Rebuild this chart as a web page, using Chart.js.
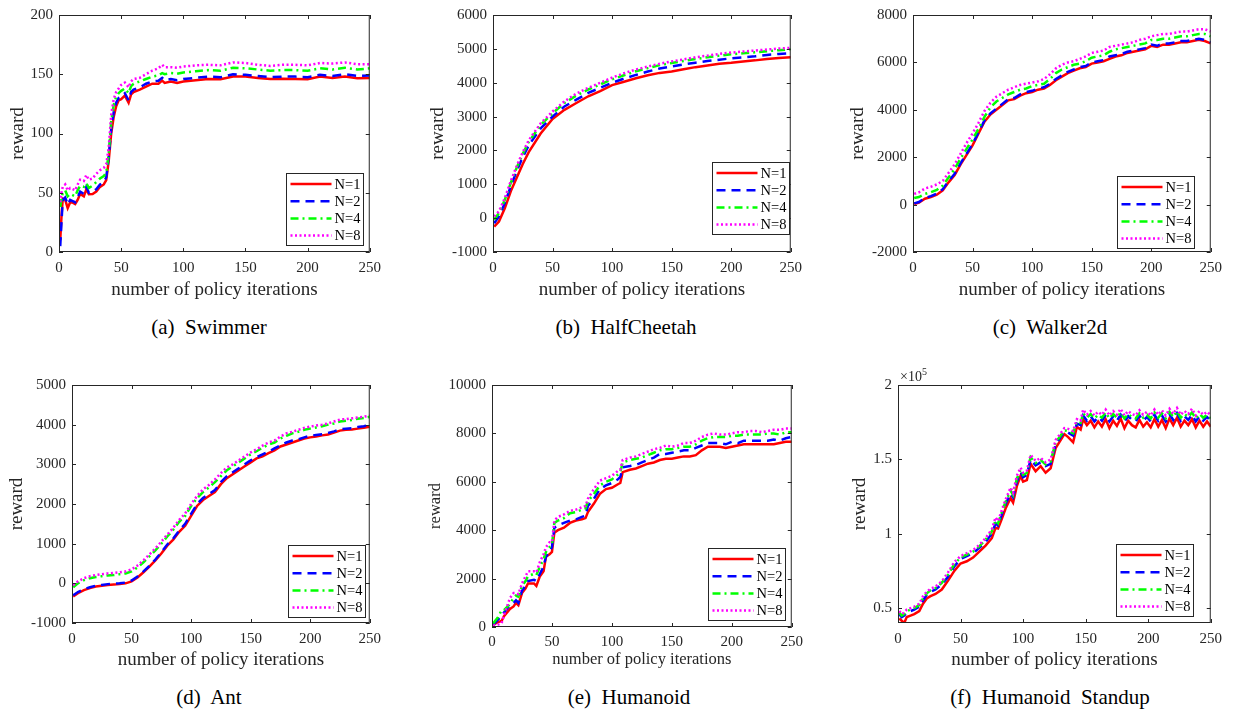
<!DOCTYPE html>
<html>
<head>
<meta charset="utf-8">
<script src="https://cdn.jsdelivr.net/npm/chart.js@4.4.1/dist/chart.umd.min.js"></script>
<style>
  body { margin: 0; width: 1235px; height: 711px; overflow: hidden; position: relative; background: #fff; font-family: 'Liberation Serif', 'Times New Roman', serif; }
  canvas { position: absolute; }
  .caption { position: absolute; font-size: 21px; color: #000; white-space: pre; transform: translate(-50%, -50%); }
</style>
</head>
<body>

<div class="caption" style="left:209px;top:327px">(a)  Swimmer</div>
<div class="caption" style="left:626px;top:327px">(b)  HalfCheetah</div>
<div class="caption" style="left:1050px;top:327px">(c)  Walker2d</div>
<div class="caption" style="left:209px;top:697px">(d)  Ant</div>
<div class="caption" style="left:629px;top:697px">(e)  Humanoid</div>
<div class="caption" style="left:1050px;top:697px">(f)  Humanoid  Standup</div>

<script>
/* ================= DATA ================= */
const seriesNames = ['N=1', 'N=2', 'N=4', 'N=8'];
const iterTicks = [0, 50, 100, 150, 200, 250];

// (a) Swimmer
const swimmerIters = [1,2,3,5,7,9,11,13,15,17,20,22,24,27,30,33,36,38,40,42,44,46,48,50,53,56,58,60,65,70,75,80,83,85,90,95,100,110,120,130,140,150,160,170,180,190,200,210,220,230,240,250];
const swimmerN1 = [10,30,45,44,37,42,41.7,40.5,44,49,47,53,48.7,49,51,55,57,60.7,77,100,114,123,128,129,132,126,133,135,137,139.6,142,142,144.6,142.7,143.8,142.7,143.8,145,146,145.7,148,148,146.8,146,146.3,146,145.7,148,146.8,148,146.6,146.8];
const swimmerN2 = [5,25,44,46,40,44,43,42,46,51,49,55,50,51,53,57,59,63,80,104,118,126,130,131,134,128,135,137,139,142,144,144.5,147,145,146,145,146,147,148,147.5,150,149.5,148.5,147.5,148,148,147.5,149.5,148.5,150,148.5,149];
const swimmerN4 = [38,45,50,52,47,49,48,47,52,56,55,58,54,56,59,62,64,67,83,110,124,131,134,136,138,134,140,142,144,146,148,149,151,150,151,150.5,151.5,152.5,153.5,153,155.5,155,154,153,153.5,153.5,153,155,154,155.5,154,155];
const swimmerN8 = [42,50,55,57,52,54,53,52,57,61,60,65,61,62,66,69,71,74,88,116,129,135,138,141,143,139,144,146,147,150,153,155,158,156,156,155.5,156.5,157.5,158,157.5,160,159.5,158,157,158,158,157.5,159.5,159,160,158.5,158.5];
const swimmerTicks = [0, 50, 100, 150, 200];
const swimmerTickLabels = ['0', '50', '100', '150', '200'];

// (b) HalfCheetah
const cheetahIters = [1,5,10,15,20,25,30,40,50,60,70,80,90,100,110,120,130,140,150,160,170,180,190,200,210,220,230,240,250];
const cheetahN1 = [-250,-100,300,800,1200,1600,1950,2500,2930,3200,3400,3600,3750,3930,4030,4130,4220,4290,4330,4400,4460,4510,4560,4590,4630,4660,4700,4730,4750];
const cheetahN2 = [-150,50,450,950,1400,1800,2150,2650,3000,3300,3500,3700,3850,4000,4120,4230,4330,4420,4480,4540,4590,4640,4680,4720,4750,4780,4820,4850,4870];
const cheetahN4 = [-50,150,550,1050,1500,1900,2250,2750,3100,3400,3620,3800,3950,4100,4220,4340,4430,4520,4580,4640,4700,4750,4800,4840,4870,4900,4930,4960,4990];
const cheetahN8 = [50,200,600,1100,1550,1950,2300,2800,3150,3450,3680,3850,4000,4150,4280,4390,4480,4560,4630,4690,4750,4800,4850,4890,4920,4950,4980,5010,5030];
const cheetahTicks = [-1000, 0, 1000, 2000, 3000, 4000, 5000, 6000];
const cheetahTickLabels = ['-1000', '0', '1000', '2000', '3000', '4000', '5000', '6000'];

// (c) Walker2d
const walkerIters = [1,5,10,15,20,25,30,35,40,45,50,55,60,65,70,75,80,85,90,95,100,105,110,115,120,125,130,135,140,145,150,155,160,165,170,175,180,185,190,195,200,205,210,215,220,225,230,235,240,245,250];
const walkerN1 = [20,80,250,320,420,600,950,1250,1700,2100,2500,3000,3500,3800,4000,4200,4400,4450,4600,4700,4750,4850,4900,5050,5250,5400,5550,5650,5750,5800,5950,6000,6050,6150,6250,6300,6400,6450,6500,6550,6700,6650,6750,6750,6800,6850,6850,6900,6950,6900,6800];
const walkerN2 = [50,110,280,360,460,650,1000,1300,1750,2150,2550,3050,3550,3850,4050,4250,4450,4500,4650,4750,4800,4900,4950,5100,5300,5450,5600,5700,5800,5850,6000,6050,6100,6250,6300,6350,6450,6500,6550,6600,6750,6700,6800,6800,6850,6900,6900,6950,7000,6950,6850];
const walkerN4 = [280,320,450,520,620,800,1150,1500,1950,2350,2750,3200,3700,4100,4350,4500,4650,4750,4850,4900,5000,5050,5100,5300,5550,5700,5800,5900,5950,6050,6200,6250,6300,6450,6550,6600,6650,6700,6750,6800,6950,6950,7000,7000,7050,7100,7100,7150,7200,7200,7100];
const walkerN8 = [450,520,680,750,850,1000,1350,1700,2150,2600,3000,3450,3950,4300,4550,4700,4850,4950,5050,5100,5150,5200,5300,5500,5750,5900,6000,6050,6150,6250,6400,6450,6500,6650,6700,6750,6800,6850,6950,7000,7100,7150,7200,7200,7250,7300,7300,7350,7400,7400,7300];
const walkerTicks = [-2000, 0, 2000, 4000, 6000, 8000];
const walkerTickLabels = ['-2000', '0', '2000', '4000', '6000', '8000'];

// (d) Ant
const antIters = walkerIters;
const antN1 = [-330,-250,-170,-120,-80,-60,-40,-30,-20,0,50,150,280,420,580,750,950,1100,1300,1450,1700,1950,2100,2200,2300,2500,2650,2750,2850,2950,3050,3150,3200,3280,3350,3450,3500,3550,3600,3650,3680,3700,3730,3750,3800,3850,3870,3880,3900,3920,3950];
const antN2 = [-300,-220,-150,-100,-60,-40,-20,-10,0,20,70,170,300,440,600,780,980,1130,1330,1500,1750,2000,2150,2250,2350,2550,2700,2800,2900,3000,3100,3180,3250,3320,3400,3480,3550,3600,3630,3680,3720,3740,3760,3790,3830,3880,3900,3910,3940,3960,4000];
const antN4 = [-100,0,80,130,160,180,200,210,230,250,300,400,530,680,830,1000,1180,1350,1550,1700,1950,2150,2300,2420,2550,2700,2850,2950,3050,3150,3250,3330,3420,3500,3550,3650,3720,3780,3820,3870,3900,3930,3960,4000,4030,4080,4100,4120,4150,4170,4200];
const antN8 = [-50,50,130,180,210,230,250,260,280,300,350,450,580,730,880,1050,1230,1400,1600,1760,2000,2200,2370,2480,2620,2780,2920,3000,3100,3200,3300,3380,3470,3550,3600,3700,3780,3820,3870,3920,3950,3980,4000,4030,4080,4130,4140,4160,4180,4200,4230];
const antTicks = [-1000, 0, 1000, 2000, 3000, 4000, 5000];
const antTickLabels = ['-1000', '0', '1000', '2000', '3000', '4000', '5000'];

// (e) Humanoid
const humanoidIters = [1,5,8,10,15,18,20,22,25,28,30,35,37,40,43,45,48,50,52,55,60,65,70,75,78,80,85,90,95,100,105,107,109,115,120,125,130,135,140,145,150,155,160,165,170,175,180,185,190,195,200,205,210,215,220,225,230,235,240,245,250];
const humanoidN1 = [100,200,250,450,750,850,1000,900,1400,1600,1800,1800,1700,2100,2300,2900,3000,3100,3900,4000,4100,4300,4400,4450,4500,4750,5100,5500,5700,5750,5900,5950,6400,6500,6550,6650,6750,6800,6900,6950,6950,7000,7050,7050,7100,7300,7450,7450,7450,7400,7450,7500,7550,7550,7550,7550,7550,7550,7600,7650,7650];
const humanoidN2 = [100,300,450,600,900,1000,1100,1000,1500,1700,1900,1950,1900,2200,2500,2900,3100,3300,4100,4200,4300,4400,4450,4550,4600,5000,5300,5700,5850,5950,6100,6200,6600,6650,6700,6800,6900,7000,7150,7150,7200,7250,7300,7300,7400,7500,7600,7600,7600,7550,7650,7600,7700,7700,7700,7700,7700,7750,7700,7800,7850];
const humanoidN4 = [150,400,700,700,950,1200,1300,1250,1700,1900,2100,2200,2150,2500,2800,3100,3300,3400,4300,4400,4500,4700,4750,4850,4900,5200,5500,5850,6000,6100,6300,6400,6800,6900,6950,7000,7100,7200,7300,7350,7350,7400,7450,7450,7550,7700,7800,7850,7850,7850,7900,7900,7950,7950,7950,7950,8000,8000,7950,8050,8050];
const humanoidN8 = [50,100,150,500,1200,1400,1400,1350,1800,2100,2300,2300,2250,2700,3000,3300,3500,3500,4400,4550,4650,4800,4850,4950,5000,5300,5700,6050,6150,6250,6450,6500,6900,7000,7050,7150,7250,7350,7400,7500,7450,7500,7600,7600,7700,7850,7950,8000,7950,7950,8000,8050,8050,8100,8100,8050,8100,8150,8150,8200,8200];
const humanoidTicks = [0, 2000, 4000, 6000, 8000, 10000];
const humanoidTickLabels = ['0', '2000', '4000', '6000', '8000', '10000'];

// (f) Humanoid Standup
const standupIters = [1,3,5,7,10,13,17,20,23,26,30,35,40,45,50,55,60,65,70,75,78,80,83,86,90,92,95,98,100,103,106,110,114,118,122,126,130,133,136,140,143,146,
  148,151,154,157,160,163,166,169,172,175,178,181,184,187,190,193,196,199,202,205,208,211,214,217,220,223,226,229,232,235,238,241,244,247,250];
const standupN1 = [43000,41500,40000,44000,45000,46000,48000,53000,56500,58000,59500,62500,68500,75000,80000,81500,84000,88000,92000,97000,104000,103500,110000,117000,124000,121000,132000,139000,135000,136000,147000,142000,145500,141000,144000,157500,163000,167000,165000,161500,172000,170000,
  177000,173000,176000,171500,175500,172000,177000,171000,176000,172500,177500,171000,176000,173000,171500,176500,172000,175000,171500,177000,172000,176500,171000,177500,173000,178000,172000,176000,173000,177000,171500,176000,172000,175500,172000];
const standupN2 = [46000,44000,45000,47000,48000,49000,51000,55000,59000,61000,62500,66000,71000,78000,83000,85000,87000,90500,94500,100000,107000,105500,113000,120000,127000,124500,135000,141500,138000,139500,150000,146000,148000,145500,147000,160000,165000,168500,168000,166000,174000,173000,
  179500,176000,179000,175500,178500,176000,180000,175500,179000,176000,180000,175500,179000,176500,175500,179500,176000,178500,175500,180000,176000,179500,175500,180500,176500,181000,176000,179000,176500,180000,175500,179000,176000,178500,176000];
const standupN4 = [47000,45000,46000,48000,49000,50000,52000,56500,60000,62000,63500,67000,72500,79500,84000,86000,88000,91500,96000,101500,109000,107000,114500,121500,129000,126000,137000,143000,139500,141000,151500,147500,149500,146500,148500,161500,166000,169500,169000,167500,175500,174500,
  181000,178000,180500,177500,180000,178000,181500,177500,180500,178000,181500,177500,180500,178500,177500,181000,178000,180000,177500,181500,178000,181000,177500,182000,178500,182500,178000,180500,178500,181500,177500,180500,178000,180000,177500];
const standupN8 = [48000,46000,47000,49000,50000,51000,53000,58000,61000,63000,64500,68000,74000,81000,85000,87000,89000,92500,97000,103000,111000,108500,116000,123000,131000,127500,139000,144500,141000,142500,153000,149000,151000,148000,150000,163000,167500,171000,170500,169000,177000,176000,
  183500,180000,182500,179500,182000,180000,183500,179500,182500,180000,184000,179500,182500,180500,179500,183000,180000,182000,179500,183500,180000,183000,179500,184000,180500,184500,180000,182500,180500,184000,179500,182500,180000,182000,179500];
const standupTicks = [50000, 100000, 150000, 200000];
const standupTickLabels = ['0.5', '1', '1.5', '2'];

/* ================= STYLE ================= */
const seriesColors = ['#ff0000', '#0000ff', '#00ff00', '#ff00ff'];
const seriesDash = [[], [9, 6], [8, 4, 2, 4], [2, 2.5]];
const axisColor = '#262626';
const serif = "'Liberation Serif', 'Times New Roman', serif";

const panels = [
  { iters: swimmerIters, series: [swimmerN1, swimmerN2, swimmerN4, swimmerN8], min: 0, max: 200,
    ticks: swimmerTicks, labels: swimmerTickLabels, box: { l: 59, t: 14, r: 376, b: 252 },
    yTitleGap: 41, xTitleGap: 38, titleSize: 19, legend: { right: 7, bottom: 7 } },
  { iters: cheetahIters, series: [cheetahN1, cheetahN2, cheetahN4, cheetahN8], min: -1000, max: 6000,
    ticks: cheetahTicks, labels: cheetahTickLabels, box: { l: 493, t: 14, r: 797, b: 252 },
    yTitleGap: 55, xTitleGap: 38, titleSize: 19, legend: { right: 2, bottom: 18 } },
  { iters: walkerIters, series: [walkerN1, walkerN2, walkerN4, walkerN8], min: -2000, max: 8000,
    ticks: walkerTicks, labels: walkerTickLabels, box: { l: 913, t: 14, r: 1217, b: 252 },
    yTitleGap: 55, xTitleGap: 38, titleSize: 19, legend: { right: 17, bottom: 4 } },
  { iters: antIters, series: [antN1, antN2, antN4, antN8], min: -1000, max: 5000,
    ticks: antTicks, labels: antTickLabels, box: { l: 72, t: 385, r: 376, b: 623 },
    yTitleGap: 55, xTitleGap: 37, titleSize: 19, legend: { right: 5, bottom: 6 } },
  { iters: humanoidIters, series: [humanoidN1, humanoidN2, humanoidN4, humanoidN8], min: 0, max: 10000,
    ticks: humanoidTicks, labels: humanoidTickLabels, box: { l: 492, t: 385, r: 797, b: 627 },
    yTitleGap: 56, xTitleGap: 33, titleSize: 16.5, legend: { right: 7, bottom: 7 } },
  { iters: standupIters, series: [standupN1, standupN2, standupN4, standupN8], min: 40000, max: 200000,
    ticks: standupTicks, labels: standupTickLabels, box: { l: 898, t: 385, r: 1217, b: 623 },
    yTitleGap: 38, xTitleGap: 37, titleSize: 19, legend: { right: 18, bottom: 7 }, exponent: '5' }
];

/* ================= PLUGIN: box, inward ticks, legend ================= */
const matlabAxes = {
  id: 'matlabAxes',
  afterDatasetsDraw(chart, args, opts) {
    const { ctx, chartArea: a, scales: { x, y } } = chart;
    ctx.save();
    ctx.strokeStyle = axisColor;
    ctx.lineWidth = 1;
    ctx.setLineDash([]);
    ctx.beginPath();
    x.ticks.forEach(t => {
      const px = Math.round(x.getPixelForValue(t.value)) + 0.5;
      ctx.moveTo(px, a.bottom); ctx.lineTo(px, a.bottom - 4);
      ctx.moveTo(px, a.top); ctx.lineTo(px, a.top + 4);
    });
    y.ticks.forEach(t => {
      const py = Math.round(y.getPixelForValue(t.value)) + 0.5;
      ctx.moveTo(a.left, py); ctx.lineTo(a.left + 4, py);
      ctx.moveTo(a.right, py); ctx.lineTo(a.right - 4, py);
    });
    ctx.stroke();
    ctx.strokeRect(a.left + 0.5, a.top + 0.5, a.right - a.left - 1, a.bottom - a.top - 1);

    // exponent marker
    if (opts.exponent) {
      ctx.fillStyle = axisColor;
      ctx.textBaseline = 'alphabetic';
      ctx.textAlign = 'left';
      ctx.font = '14px ' + serif;
      const base = '\u00d710';
      ctx.fillText(base, a.left + 2, a.top - 4);
      const w = ctx.measureText(base).width;
      ctx.font = '10px ' + serif;
      ctx.fillText(opts.exponent, a.left + 2 + w, a.top - 10);
    }

    // legend box
    const lw = 77, lh = 72;
    const lx = Math.round(a.right - opts.right - lw) + 0.5;
    const ly = Math.round(a.bottom - opts.bottom - lh) + 0.5;
    ctx.fillStyle = '#fff';
    ctx.fillRect(lx, ly, lw, lh);
    ctx.strokeStyle = axisColor;
    ctx.strokeRect(lx, ly, lw, lh);
    ctx.font = '14.5px ' + serif;
    ctx.textBaseline = 'middle';
    chart.data.datasets.forEach((ds, i) => {
      const ey = ly + 10.5 + i * 17.2;
      ctx.strokeStyle = ds.borderColor;
      ctx.lineWidth = 2.5;
      ctx.setLineDash(ds.borderDash);
      ctx.beginPath();
      ctx.moveTo(lx + 4, ey); ctx.lineTo(lx + 45, ey);
      ctx.stroke();
      ctx.setLineDash([]);
      ctx.fillStyle = '#000';
      ctx.fillText(ds.label, lx + 48, ey + 1);
    });
    ctx.restore();
  }
};

/* ================= BUILD CHARTS ================= */
const marginLeft = 75, marginRight = 12, marginBottom = 50;

panels.forEach(p => {
  const marginTop = Math.min(p.box.t, 30);
  const canvas = document.createElement('canvas');
  const w = p.box.r - p.box.l + marginLeft + marginRight;
  const h = p.box.b - p.box.t + marginTop + marginBottom;
  canvas.width = w;
  canvas.height = h;
  canvas.style.left = (p.box.l - marginLeft) + 'px';
  canvas.style.top = (p.box.t - marginTop) + 'px';
  canvas.style.width = w + 'px';
  canvas.style.height = h + 'px';
  document.body.appendChild(canvas);

  const half = p.titleSize / 2;
  const xTickPad = p.xTitleGap < 35 ? 6 : 7;

  new Chart(canvas.getContext('2d'), {
    type: 'line',
    data: {
      datasets: p.series.map((vals, i) => ({
        label: seriesNames[i],
        data: vals.map((v, k) => ({ x: p.iters[k], y: v })),
        borderColor: seriesColors[i],
        borderDash: seriesDash[i],
        borderWidth: 2.5,
        pointRadius: 0,
        tension: 0,
        fill: false,
        order: 3 - i
      }))
    },
    options: {
      responsive: false,
      animation: false,
      devicePixelRatio: 1,
      layout: { padding: { left: 0, right: marginRight, top: marginTop, bottom: 0 } },
      plugins: {
        legend: { display: false },
        tooltip: { enabled: false },
        matlabAxes: { right: p.legend.right, bottom: p.legend.bottom, exponent: p.exponent }
      },
      scales: {
        x: {
          type: 'linear',
          min: 0,
          max: 250,
          afterBuildTicks: s => { s.ticks = iterTicks.map(v => ({ value: v })); },
          afterFit: s => { s.height = marginBottom; },
          grid: { display: false, drawTicks: false },
          border: { display: false },
          ticks: { padding: xTickPad, color: axisColor, font: { family: serif, size: 15 }, maxRotation: 0, callback: v => String(v) },
          title: {
            display: true,
            text: 'number of policy iterations',
            color: axisColor,
            font: { family: serif, size: p.titleSize, lineHeight: 1 },
            padding: { top: 0, bottom: marginBottom - p.xTitleGap - half }
          }
        },
        y: {
          type: 'linear',
          min: p.min,
          max: p.max,
          afterBuildTicks: s => { s.ticks = p.ticks.map(v => ({ value: v })); },
          afterFit: s => { s.width = marginLeft; },
          grid: { display: false, drawTicks: false },
          border: { display: false },
          ticks: { padding: 6, color: axisColor, font: { family: serif, size: 15 }, callback: (v, idx) => p.labels[idx] },
          title: {
            display: true,
            text: 'reward',
            color: axisColor,
            font: { family: serif, size: p.titleSize, lineHeight: 1 },
            padding: { top: marginLeft - p.yTitleGap - half, bottom: 0 }
          }
        }
      }
    },
    plugins: [matlabAxes]
  });
});
</script>
</body>
</html>
